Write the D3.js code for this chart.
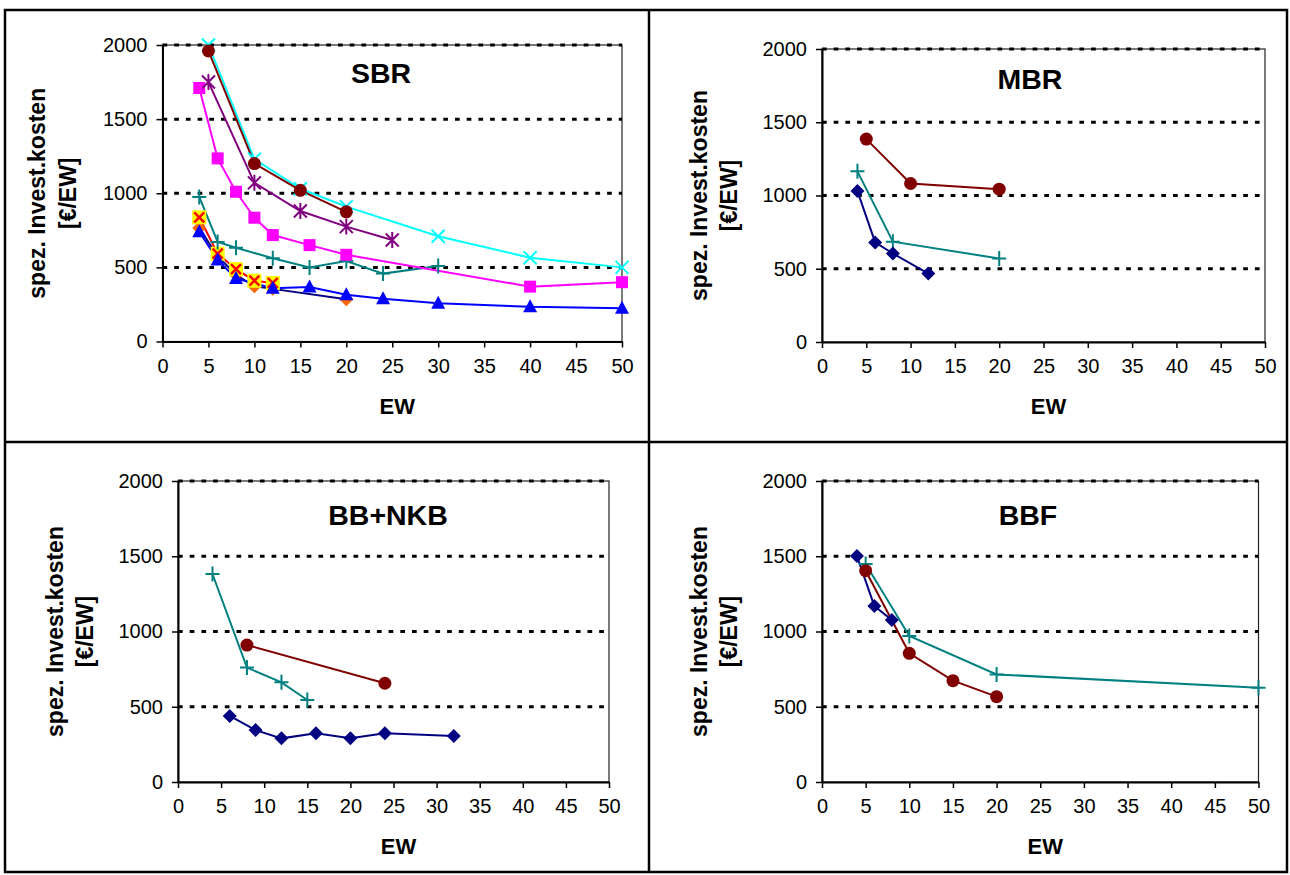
<!DOCTYPE html>
<html><head><meta charset="utf-8">
<script src="https://cdn.jsdelivr.net/npm/d3@7"></script>
<style>
body{margin:0;background:#fff}
text{font-family:"Liberation Sans",Arial,sans-serif;fill:#000}
</style>
</head><body>
<svg id="chart" width="1290" height="875"></svg>
<script>
// ---------- data ----------
const xTicks = [0,5,10,15,20,25,30,35,40,45,50];
const yTicks = [0,500,1000,1500,2000];
const gridValues = [500,1000,1500,2000];
const panelTitles = ["SBR","MBR","BB+NKB","BBF"];
const yTitleLines = ["spez. Invest.kosten","[€/EW]"];
const xTitle = "EW";

// SBR
const sbrCyan    = [[5,2000],[10,1230],[15,1030],[20,910],[30,710],[40,565],[50,500]];
const sbrDarkRed = [[5,1960],[10,1200],[15,1020],[20,875]];
const sbrPurple  = [[5,1750],[10,1070],[15,880],[20,775],[25,685]];
const sbrMagenta = [[4,1710],[6,1235],[8,1010],[10,835],[12,718],[16,650],[20,585],[40,370],[50,400]];
const sbrTeal    = [[4,975],[6,672],[8,632],[12,562],[16,500],[20,543],[24,458],[30,510]];
const sbrNavy    = [[4,765],[6,575],[8,450],[10,372],[12,355],[20,285]];
const sbrRed     = [[4,838],[6,592],[8,488],[10,410],[12,395]];
const sbrBlue    = [[4,740],[6,550],[8,425],[12,360],[16,368],[20,315],[24,288],[30,258],[40,234],[50,224]];
// MBR
const mbrDarkRed = [[5,1385],[10,1082],[20,1043]];
const mbrTeal    = [[4,1165],[8,685],[20,570]];
const mbrNavy    = [[4,1030],[6,680],[8,604],[12,467]];
// BB+NKB
const bbTeal     = [[4,1382],[8,760],[12,662],[15,545]];
const bbDarkRed  = [[8,910],[24,656]];
const bbNavy     = [[6,439],[9,345],[12,290],[16,324],[20,290],[24,324],[32,306]];
// BBF
const bbfTeal    = [[5,1448],[10,970],[20,715],[50,627]];
const bbfNavy    = [[4,1502],[6,1169],[8,1076]];
const bbfDarkRed = [[5,1404],[10,855],[15,673],[20,567]];

// ---------- styles ----------
const C = {navy:"#000080",magenta:"#FF00FF",cyan:"#00FFFF",purple:"#800080",darkred:"#800000",
           teal:"#008080",blue:"#0000FF",red:"#FF0000",yellow:"#FFFF00",orange:"#FF6600"};

const panels = [
  {title:panelTitles[0], x0:162.5, x1:622, yb:341.5, yt:45, titleX:381, titleY:83, yt1:45, yt2:76,
   series:[
     {data:sbrNavy, line:C.navy, marker:"diamond", mcol:C.orange},
     {data:sbrRed, line:C.red, marker:"yellowx", mcol:C.red},
     {data:sbrBlue, line:C.blue, marker:"triangle", mcol:C.blue},
     {data:sbrTeal, line:C.teal, marker:"plus", mcol:C.teal},
     {data:sbrMagenta, line:C.magenta, marker:"square", mcol:C.magenta},
     {data:sbrCyan, line:C.cyan, marker:"x", mcol:C.cyan},
     {data:sbrPurple, line:C.purple, marker:"star", mcol:C.purple},
     {data:sbrDarkRed, line:C.darkred, marker:"circle", mcol:C.darkred}
   ]},
  {title:panelTitles[1], x0:822, x1:1265, yb:342, yt:49, titleX:1030, titleY:89, yt1:707, yt2:737,
   series:[
     {data:mbrDarkRed, line:C.darkred, marker:"circle", mcol:C.darkred},
     {data:mbrTeal, line:C.teal, marker:"plus", mcol:C.teal},
     {data:mbrNavy, line:C.navy, marker:"diamond", mcol:C.navy}
   ]},
  {title:panelTitles[2], x0:178, x1:609, yb:782, yt:481, titleX:388, titleY:525, yt1:63, yt2:93,
   series:[
     {data:bbDarkRed, line:C.darkred, marker:"circle", mcol:C.darkred},
     {data:bbTeal, line:C.teal, marker:"plus", mcol:C.teal},
     {data:bbNavy, line:C.navy, marker:"diamond", mcol:C.navy}
   ]},
  {title:panelTitles[3], x0:822, x1:1258.5, yb:782, yt:481, titleX:1028, titleY:525, yt1:707, yt2:737,
   series:[
     {data:bbfTeal, line:C.teal, marker:"plus", mcol:C.teal},
     {data:bbfNavy, line:C.navy, marker:"diamond", mcol:C.navy},
     {data:bbfDarkRed, line:C.darkred, marker:"circle", mcol:C.darkred}
   ]}
];

const svg = d3.select("#chart");

// frame and dividers
svg.append("rect").attr("x",5).attr("y",10).attr("width",1282).attr("height",862)
  .attr("fill","none").attr("stroke","#000").attr("stroke-width",2.5);
svg.append("line").attr("x1",649).attr("x2",649).attr("y1",10).attr("y2",872)
  .attr("stroke","#000").attr("stroke-width",2.5);
svg.append("line").attr("x1",5).attr("x2",1287).attr("y1",442).attr("y2",442)
  .attr("stroke","#000").attr("stroke-width",2.5);

function drawMarker(g, type, cx, cy, col) {
  const m = g.append("g").attr("transform",`translate(${cx},${cy})`);
  if (type==="circle") m.append("circle").attr("r",6.5).attr("fill",col);
  else if (type==="square") m.append("rect").attr("x",-6).attr("y",-6).attr("width",12).attr("height",12).attr("fill",col);
  else if (type==="diamond") m.append("path").attr("d","M0,-7L7,0L0,7L-7,0Z").attr("fill",col);
  else if (type==="triangle") m.append("path").attr("d","M0,-7.5L7,5.5L-7,5.5Z").attr("fill",col);
  else if (type==="x") m.append("path").attr("d","M-6.5,-6.5L6.5,6.5M-6.5,6.5L6.5,-6.5").attr("stroke",col).attr("stroke-width",2).attr("fill","none");
  else if (type==="plus") m.append("path").attr("d","M-7,0L7,0M0,-7.5L0,7.5").attr("stroke",col).attr("stroke-width",2).attr("fill","none");
  else if (type==="star") m.append("path").attr("d","M-6.5,-6.5L6.5,6.5M-6.5,6.5L6.5,-6.5M0,-8L0,8").attr("stroke",col).attr("stroke-width",2).attr("fill","none");
  else if (type==="yellowx") {
    m.append("rect").attr("x",-7).attr("y",-7).attr("width",14).attr("height",14).attr("fill",C.yellow);
    m.append("path").attr("d","M-5,-5L5,5M-5,5L5,-5").attr("stroke",col).attr("stroke-width",2.5).attr("fill","none");
  }
}

panels.forEach(p => {
  const x = d3.scaleLinear().domain([0,50]).range([p.x0,p.x1]);
  const y = d3.scaleLinear().domain([0,2000]).range([p.yb,p.yt]);
  const g = svg.append("g");

  // plot area border
  g.append("rect").attr("x",x(0)).attr("y",y(2000)).attr("width",x(50)-x(0)).attr("height",y(0)-y(2000))
    .attr("fill","none").attr("stroke","#222").attr("stroke-width",1.2);

  // gridlines
  g.selectAll(".grid").data(gridValues).join("line")
    .attr("x1",x(0)).attr("x2",x(50)).attr("y1",d=>y(d)).attr("y2",d=>y(d))
    .attr("stroke","#000").attr("stroke-width",3).attr("stroke-dasharray","4.7,7");

  // axes
  const ax = g.append("g").attr("transform",`translate(0,${y(0)})`)
    .call(d3.axisBottom(x).tickValues(xTicks).tickSize(6).tickSizeOuter(0).tickPadding(11).tickFormat(d3.format("d")));
  const ay = g.append("g").attr("transform",`translate(${x(0)},0)`)
    .call(d3.axisLeft(y).tickValues(yTicks).tickSize(6).tickSizeOuter(0).tickPadding(9).tickFormat(d3.format("d")));
  [ax,ay].forEach(a=>{
    a.select(".domain").attr("stroke","#000").attr("stroke-width",2);
    a.selectAll(".tick line").attr("stroke","#000").attr("stroke-width",1.5);
    a.selectAll(".tick text").attr("font-size",20).attr("font-family","Liberation Sans, Arial, sans-serif").attr("fill","#000");
  });

  // series
  const line = d3.line().x(d=>x(d[0])).y(d=>y(d[1]));
  p.series.forEach(s => {
    g.append("path").attr("d",line(s.data)).attr("fill","none").attr("stroke",s.line).attr("stroke-width",2);
  });
  p.series.forEach(s => {
    s.data.forEach(d => drawMarker(g, s.marker, x(d[0]), y(d[1]), s.mcol));
  });

  // titles
  g.append("text").attr("x",p.titleX).attr("y",p.titleY).attr("text-anchor","middle")
    .attr("font-size",28.5).attr("font-weight","bold").text(p.title);
  g.append("text").attr("x",(x(0)+x(50))/2 + 5).attr("y",y(0)+72).attr("text-anchor","middle")
    .attr("font-size",22).attr("font-weight","bold").text(xTitle);
  const cy = (y(0)+y(2000))/2;
  [p.yt1,p.yt2].forEach((bx,i) => {
    g.append("text").attr("transform",`translate(${bx},${cy}) rotate(-90)`).attr("text-anchor","middle")
      .attr("font-size",23).attr("font-weight","bold").text(yTitleLines[i]);
  });
});
</script>
</body></html>
